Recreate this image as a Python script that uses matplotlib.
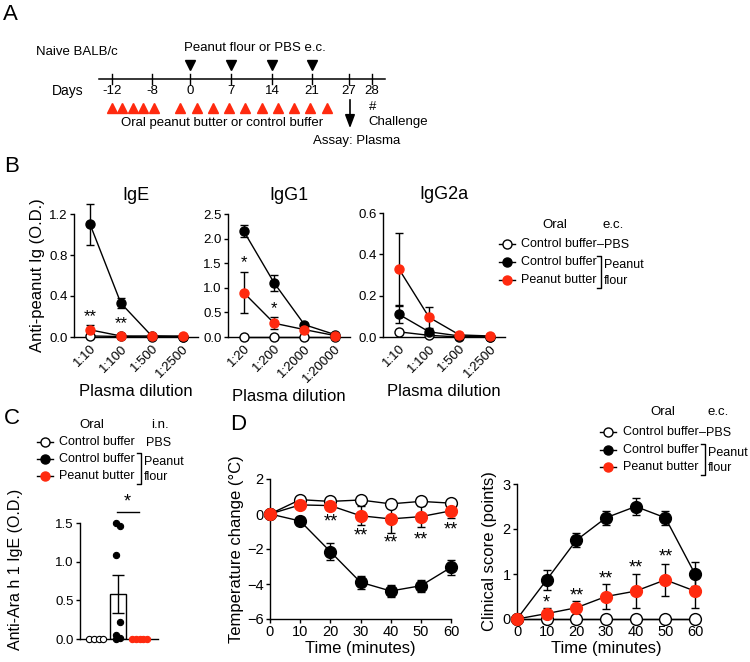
import matplotlib.pyplot as plt
import numpy as np

plt.rcParams['font.family'] = ['Liberation Sans', 'DejaVu Sans']
plt.rcParams['axes.linewidth'] = 1.0

RED = '#ff2a0f'

# ---- Panel A: schedule ----
day_labels = ['-12', '-8', '0', '7', '14', '21', '27', '28']
day_px = [112, 152, 190, 231, 272, 312, 349, 372]       # schematic, not to scale
ec_days_px = [190, 231, 272, 312]                         # peanut flour / PBS e.c.
oral_px = [112, 122, 133, 143, 154, 180, 197, 213, 229, 245, 262, 278, 294, 310, 327]

# ---- Panel B: anti-peanut Ig ELISA ----
ige_dil = ['1:10', '1:100', '1:500', '1:2500']
ige_ctrl_pbs = [0.01, 0.005, 0.0, 0.0]
ige_ctrl_pf = [1.10, 0.33, 0.01, 0.0]
ige_ctrl_pf_err = [0.20, 0.05, 0.0, 0.0]
ige_pb_pf = [0.07, 0.01, 0.01, 0.01]
ige_pb_pf_err = [0.05, 0.0, 0.0, 0.0]
ige_stars = ['**', '**', '', '']
ige_star_y = [0.13, 0.06, 0, 0]

igg1_dil = ['1:20', '1:200', '1:2000', '1:20000']
igg1_ctrl_pbs = [0.0, 0.0, 0.0, 0.0]
igg1_ctrl_pf = [2.15, 1.10, 0.25, 0.05]
igg1_ctrl_pf_err = [0.12, 0.17, 0.03, 0.01]
igg1_pb_pf = [0.90, 0.28, 0.15, 0.03]
igg1_pb_pf_err = [0.42, 0.12, 0.03, 0.01]
igg1_stars = ['*', '*', '', '']
igg1_star_y = [1.36, 0.42, 0, 0]

igg2a_dil = ['1:10', '1:100', '1:500', '1:2500']
igg2a_ctrl_pbs = [0.025, 0.008, 0.0, 0.0]
igg2a_ctrl_pf = [0.11, 0.025, 0.005, 0.0]
igg2a_ctrl_pf_err = [0.04, 0.01, 0.0, 0.0]
igg2a_pb_pf = [0.33, 0.095, 0.01, 0.005]
igg2a_pb_pf_err = [0.175, 0.05, 0.0, 0.0]

# ---- Panel C: anti-Ara h 1 IgE ----
c_pbs_pts = [0.0, 0.0, 0.0, 0.0]
c_ctrl_pts = [1.50, 1.46, 1.08, 0.22, 0.05, 0.01, 0.0]
c_pb_pts = [0.0, 0.0, 0.0, 0.0, 0.0]
c_means = [0.0, 0.58, 0.0]
c_sems = [0.0, 0.25, 0.0]

# ---- Panel D: challenge ----
time_min = [0, 10, 20, 30, 40, 50, 60]
temp_pbs = [0, 0.82, 0.72, 0.80, 0.58, 0.72, 0.62]
temp_ctrl = [0, -0.40, -2.15, -3.90, -4.40, -4.10, -3.05]
temp_ctrl_err = [0, 0.22, 0.48, 0.38, 0.32, 0.35, 0.45]
temp_pb = [0, 0.52, 0.48, -0.10, -0.28, -0.15, 0.18]
temp_pb_err = [0, 0.10, 0.22, 0.55, 0.78, 0.62, 0.40]
temp_stars_y = [None, None, -0.45, -1.25, -1.65, -1.50, -0.90]

score_pbs = [0, 0, 0, 0, 0, 0, 0]
score_ctrl = [0, 0.87, 1.75, 2.25, 2.50, 2.25, 1.00]
score_ctrl_err = [0, 0.23, 0.16, 0.16, 0.19, 0.16, 0.27]
score_pb = [0, 0.12, 0.25, 0.50, 0.62, 0.87, 0.62]
score_pb_err = [0, 0.13, 0.16, 0.27, 0.38, 0.35, 0.37]
score_stars = ['', '*', '**', '**', '**', '**', '']
score_star_y = [0, 0.36, 0.52, 0.90, 1.14, 1.37, 0]

W, H = 750, 662
fig = plt.figure(figsize=(7.5, 6.62), dpi=100)


def box(x0, y0, x1, y1):
    # pixel box (top-left origin) -> figure fraction
    return [x0 / W, 1 - y1 / H, (x1 - x0) / W, (y1 - y0) / H]


over = fig.add_axes([0, 0, 1, 1])
over.set_xlim(0, W)
over.set_ylim(H, 0)
over.axis('off')
over.patch.set_alpha(0)

# panel letters
for letter, (lx, ly) in zip('ABCD', [(3, 15), (4, 166), (4, 418), (230, 424)]):
    over.text(lx, ly, letter, fontsize=16, va='center', ha='left')

# ---- A ----
over.text(36, 52, 'Naive BALB/c', fontsize=9.5, va='center')
over.text(255, 48, 'Peanut flour or PBS e.c.', fontsize=9.5, va='center', ha='center')
over.plot([99, 385], [79, 79], color='k', lw=1.1)
for xp, lab in zip(day_px, day_labels):
    over.plot([xp, xp], [74, 84], color='k', lw=1.0)
    over.text(xp, 91, lab, fontsize=9.5, ha='center', va='center')
over.text(52, 91, 'Days', fontsize=10, va='center')
over.plot(ec_days_px, [65] * len(ec_days_px), 'v', color='k', ms=6.5, ls='none')
over.plot(oral_px, [108] * len(oral_px), '^', color=RED, ms=6.5, ls='none')
over.text(222, 123, 'Oral peanut butter or control buffer', fontsize=9.5, ha='center', va='center')
over.annotate('', xy=(350, 131), xytext=(350, 97),
              arrowprops=dict(arrowstyle='-|>,head_width=0.3,head_length=0.8', color='k', lw=1.2))
over.text(373, 107, '#', fontsize=9.5, ha='center', va='center')
over.text(368, 122, 'Challenge', fontsize=9.5, va='center')
over.text(313, 141, 'Assay: Plasma', fontsize=9.5, va='center')


def style(ax, fs=9.5):
    ax.spines['top'].set_visible(False)
    ax.spines['right'].set_visible(False)
    ax.patch.set_alpha(0)
    ax.tick_params(direction='out', length=3, width=1, labelsize=fs, pad=1.5)


def series(ax, x, y, err, face, ms):
    if err is not None:
        ax.errorbar(x, y, yerr=err, fmt='none', ecolor='k', elinewidth=1,
                    capsize=3, capthick=1, clip_on=False, zorder=3)
    ax.plot(x, y, '-', color='k', lw=1, marker='o', ms=ms, mfc=face,
            mec='k' if face == 'white' else face, mew=1, clip_on=False, zorder=4)


# ---- B ----
b_specs = [
    ((74, 214, 198, 337), 'IgE', ige_dil, ige_ctrl_pbs, ige_ctrl_pf, ige_ctrl_pf_err,
     ige_pb_pf, ige_pb_pf_err, 1.2, [0, 0.4, 0.8, 1.2], ['0.0', '0.4', '0.8', '1.2'],
     ige_stars, ige_star_y),
    ((228, 214, 350, 337), 'IgG1', igg1_dil, igg1_ctrl_pbs, igg1_ctrl_pf, igg1_ctrl_pf_err,
     igg1_pb_pf, igg1_pb_pf_err, 2.5, [0, 0.5, 1.0, 1.5, 2.0, 2.5],
     ['0.0', '0.5', '1.0', '1.5', '2.0', '2.5'], igg1_stars, igg1_star_y),
    ((383, 213, 505, 337), 'IgG2a', igg2a_dil, igg2a_ctrl_pbs, igg2a_ctrl_pf, igg2a_ctrl_pf_err,
     igg2a_pb_pf, igg2a_pb_pf_err, 0.6, [0, 0.2, 0.4, 0.6], ['0.0', '0.2', '0.4', '0.6'],
     None, None),
]
for i, (bx, title, dil, pbs, ctrl, ctrl_err, pb, pb_err, ymax, yt, ytl, stars, sy) in enumerate(b_specs):
    ax = fig.add_axes(box(*bx))
    style(ax)
    x = np.arange(len(dil))
    series(ax, x, pbs, None, 'white', 6.5)
    series(ax, x, ctrl, ctrl_err, 'k', 6.5)
    series(ax, x, pb, pb_err, RED, 6.5)
    if stars:
        for xi, s, yy in zip(x, stars, sy):
            if s:
                ax.text(xi, yy, s, ha='center', va='bottom', fontsize=12)
    ax.set_xlim(-0.52, 3.5)
    ax.set_ylim(0, ymax)
    ax.set_yticks(yt)
    ax.set_yticklabels(ytl)
    ax.set_xticks(x)
    ax.set_xticklabels(dil, rotation=45, ha='right', rotation_mode='anchor', fontsize=9.5)
    ax.tick_params(axis='x', length=0, pad=4)
    ax.set_title(title, fontsize=13, pad=10)
    ax.set_xlabel('Plasma dilution', fontsize=12, labelpad=3)
    if i == 0:
        ax.set_ylabel('Anti-peanut Ig (O.D.)', fontsize=12, labelpad=3)


def legend(mx, tx, rows, header, hx, hy, top_tag, tag_x, bracket_x):
    over.text(hx[0], hy, 'Oral', fontsize=9.5, ha='center', va='center')
    over.text(hx[1], hy, header, fontsize=9.5, ha='center', va='center')
    faces = ['white', 'k', RED]
    names = ['Control buffer', 'Control buffer', 'Peanut butter']
    for ry, face, name in zip(rows, faces, names):
        over.plot([mx - 8, mx + 8], [ry, ry], color='k', lw=1)
        over.plot([mx], [ry], 'o', ms=6.5, mfc=face, mec='k' if face == 'white' else face, mew=1)
        over.text(tx, ry, name, fontsize=9, va='center')
    over.text(tag_x, rows[0] + 1, top_tag, fontsize=9, va='center')
    y0, y1 = rows[1] - 6, rows[2] + 8
    over.plot([bracket_x - 4, bracket_x, bracket_x, bracket_x - 4], [y0, y0, y1, y1], color='k', lw=1)
    over.text(bracket_x + 3, rows[1] + 3, 'Peanut', fontsize=9, va='center')
    over.text(bracket_x + 3, rows[2] + 1, 'flour', fontsize=9, va='center')


legend(507, 521, [244, 262, 280], 'e.c.', (555, 613), 225, '\u2013PBS', 597, 601)
legend(45, 59, [442, 459, 476], 'i.n.', (92, 160), 425, 'PBS', 146, 141)
legend(608, 623, [432, 450, 467], 'e.c.', (663, 718), 412, '\u2013PBS', 699, 705)

# ---- C ----
axc = fig.add_axes(box(80, 523, 158, 639))
style(axc)
gx = np.arange(3)
axc.bar(gx, c_means, width=0.7, color='white', edgecolor='k', lw=1, zorder=2)
axc.errorbar(gx[1], c_means[1], yerr=c_sems[1], fmt='none', ecolor='k',
             elinewidth=1, capsize=4, capthick=1, zorder=3)
for g, pts, face in zip(gx, [c_pbs_pts, c_ctrl_pts, c_pb_pts], ['white', 'k', RED]):
    n = len(pts)
    offs = np.linspace(-0.33, 0.33, n) if g != 1 else np.tile([-0.08, 0.08], n)[:n]
    axc.plot(g + offs, pts, 'o', ms=4.5, mfc=face, mec='k' if face == 'white' else face,
             mew=0.8, ls='none', clip_on=False, zorder=4)
axc.set_xlim(-0.75, 2.85)
axc.set_ylim(0, 1.5)
axc.set_yticks([0, 0.5, 1.0, 1.5])
axc.set_yticklabels(['0.0', '0.5', '1.0', '1.5'])
axc.set_xticks([])
axc.plot([0.95, 1.95], [1.64, 1.64], color='k', lw=1, clip_on=False)
axc.text(1.45, 1.66, '*', ha='center', va='bottom', fontsize=13)
axc.set_ylabel('Anti-Ara h 1 IgE (O.D.)', fontsize=11.5)
axc.yaxis.set_label_coords(-0.73, 0.6)

# ---- D ----
axt = fig.add_axes(box(270, 479, 451, 619))
style(axt, 10.5)
series(axt, time_min, temp_pbs, None, 'white', 8.5)
series(axt, time_min, temp_ctrl, temp_ctrl_err, 'k', 8.5)
series(axt, time_min, temp_pb, temp_pb_err, RED, 8.5)
for t, yy in zip(time_min, temp_stars_y):
    if yy is not None:
        axt.text(t, yy, '**', ha='center', va='center', fontsize=13)
axt.set_xlim(0, 60)
axt.set_ylim(-6, 2)
axt.set_xticks(time_min)
axt.set_yticks([2, 0, -2, -4, -6])
axt.set_xlabel('Time (minutes)', fontsize=12, labelpad=1)
axt.set_ylabel('Temperature change (°C)', fontsize=12, labelpad=2)

axs = fig.add_axes(box(517, 484, 695, 619))
style(axs, 10.5)
series(axs, time_min, score_pbs, None, 'white', 8.5)
series(axs, time_min, score_ctrl, score_ctrl_err, 'k', 8.5)
series(axs, time_min, score_pb, score_pb_err, RED, 8.5)
for t, s, yy in zip(time_min, score_stars, score_star_y):
    if s:
        axs.text(t, yy, s, ha='center', va='center', fontsize=13)
axs.set_xlim(0, 60)
axs.set_ylim(0, 3)
axs.set_xticks(time_min)
axs.set_yticks([0, 1, 2, 3])
axs.set_xlabel('Time (minutes)', fontsize=12, labelpad=1)
axs.set_ylabel('Clinical score (points)', fontsize=12, labelpad=4)

fig.savefig('out.png', dpi=100)
